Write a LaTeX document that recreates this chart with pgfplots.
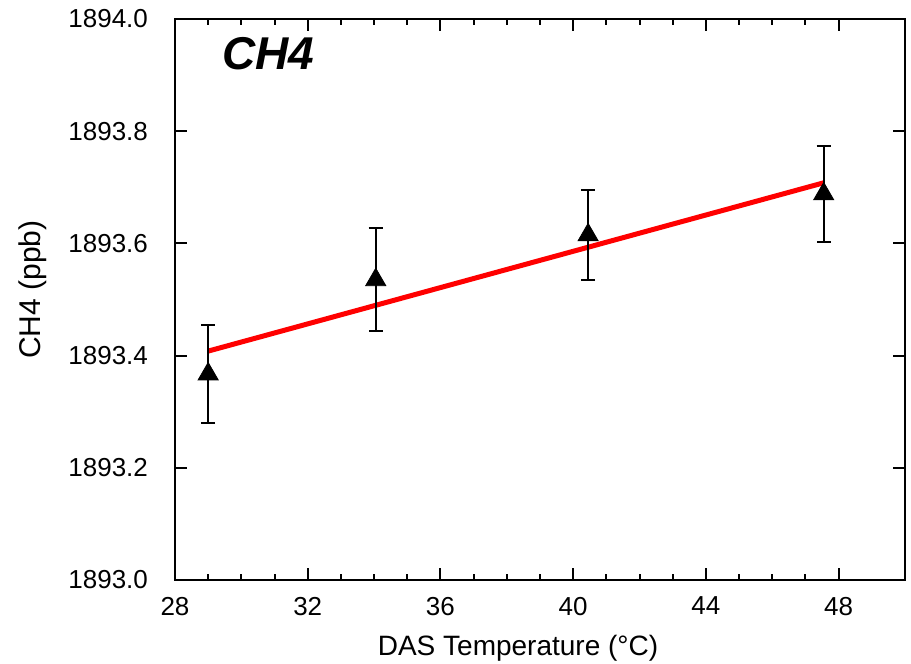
\documentclass[border=0pt]{standalone}
\usepackage{pgfplots}
\pgfplotsset{compat=1.18}
\usepackage{fontspec}
\setmainfont{Liberation Sans}

% measured points: DAS temperature vs CH4, with 1-sigma bars
\pgfplotstableread{
x      y         e
29.0   1893.367  0.088
34.05  1893.535  0.092
40.45  1893.615  0.080
47.55  1893.688  0.085
}\chfour

\begin{document}
\begin{tikzpicture}
\begin{axis}[
  scale only axis,
  width=365pt, height=280.5pt,
  xmin=28, xmax=50, ymin=1893.0, ymax=1894.0,
  xtick={28,32,...,48}, minor x tick num=3,
  ytick={1893.0,1893.2,...,1894.0}, minor y tick num=3,
  tick align=inside,
  major tick length=6pt, minor tick length=3pt,
  every tick/.style={black, line width=1pt},
  axis line style={line width=1pt},
  /pgf/number format/assume math mode=true,
  yticklabel={\pgfmathprintnumber[fixed, fixed zerofill, precision=1, 1000 sep={}]{\tick}},
  tick label style={font=\fontsize{13}{15}\selectfont},
  yticklabel style={xshift=-10pt},
  xticklabel style={yshift=-5pt},
  label style={font=\fontsize{14}{16}\selectfont},
  xlabel={DAS Temperature (°C)},
  ylabel={CH4 (ppb)},
  xlabel style={yshift=-3pt, xshift=-11pt},
  ylabel style={yshift=4pt, xshift=5pt, font=\fontsize{15}{17}\selectfont},
  clip=false,
]
\addplot[red, line width=2.5pt] coordinates {(29.0,1893.408) (47.55,1893.708)};
\addplot[only marks, mark=triangle*, mark size=5.8pt, black,
  error bars/.cd, y dir=both, y explicit,
  error bar style={line width=1pt, black},
  error mark options={rotate=90, mark size=3.5pt, line width=1pt, black}]
  table[x=x, y=y, y error=e] {\chfour};
\node[anchor=west, font=\fontsize{23}{26}\selectfont\bfseries\itshape]
  at (rel axis cs:0.055,0.9376) {CH4};
\end{axis}
\pgfresetboundingbox
\path (-87.5pt,-42pt) rectangle (368pt,290pt);
\end{tikzpicture}
\end{document}
